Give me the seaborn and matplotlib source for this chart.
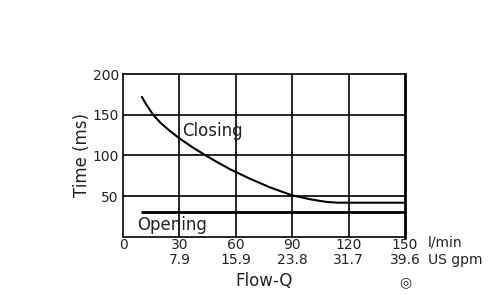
import matplotlib
matplotlib.use("Agg")
import matplotlib.pyplot as plt
import seaborn as sns
import pandas as pd

# data
closing_flow = [10, 12, 16, 20, 25, 30, 37, 44, 50, 57, 67, 78, 90, 100, 108, 114, 150]
closing_time = [172, 164, 150, 140, 130, 121, 110, 100, 92, 83, 72, 61, 51, 46, 43, 42, 42]
opening_flow = [10, 150]
opening_time = [31, 31]
x_ticks_lpm = [0, 30, 60, 90, 120, 150]
x_ticks_gpm = ["", "7.9", "15.9", "23.8", "31.7", "39.6"]
y_ticks = [50, 100, 150, 200]

sns.set_style("white")
plt.rcParams['font.family'] = ['DejaVu Sans']

fig = plt.figure(figsize=(5, 2.95), dpi=100)
ax = fig.add_axes([0.246, 0.197, 0.564, 0.552])

df_c = pd.DataFrame({"flow": closing_flow, "time": closing_time})
df_o = pd.DataFrame({"flow": opening_flow, "time": opening_time})
sns.lineplot(data=df_c, x="flow", y="time", ax=ax, color="black", linewidth=1.5)
sns.lineplot(data=df_o, x="flow", y="time", ax=ax, color="black", linewidth=2.0)

ax.set_xlim(0, 150)
ax.set_ylim(0, 200)
ax.set_yticks(y_ticks)
ax.set_yticklabels([str(v) for v in y_ticks], fontsize=10, color="#222222")
labels = []
for a, b in zip(x_ticks_lpm, x_ticks_gpm):
    labels.append(f"{a}\n{b}" if b else f"{a}\n")
ax.set_xticks(x_ticks_lpm)
ax.set_xticklabels(labels, fontsize=10, color="#222222", linespacing=1.05)
ax.tick_params(axis="x", length=0, pad=1)
ax.tick_params(axis="y", length=0, pad=3)

for v in [30, 60, 90, 120]:
    ax.axvline(v, color="black", linewidth=1.2, zorder=1)
for v in [50, 100, 150]:
    ax.axhline(v, color="black", linewidth=1.2, zorder=1)

for s in ["left", "bottom", "top"]:
    ax.spines[s].set_color("black")
    ax.spines[s].set_linewidth(1.2)
ax.spines["right"].set_color("black")
ax.spines["right"].set_linewidth(2.0)

ax.set_xlabel("Flow-Q", fontsize=12, labelpad=4, color="#222222")
ax.set_ylabel("Time (ms)", fontsize=12, labelpad=1, color="#222222")

ax.text(31.5, 130, "Closing", fontsize=12, ha="left", va="center", color="#222222")
ax.text(7.5, 15, "Opening", fontsize=12, ha="left", va="center", color="#222222")

fig.text(0.855, 1 - 243 / 295, "l/min", fontsize=10, ha="left", va="center", color="#222222")
fig.text(0.855, 1 - 260 / 295, "US gpm", fontsize=10, ha="left", va="center", color="#222222")
fig.text(0.81, 1 - 282 / 295, "\u25CE", fontsize=10, ha="center", va="center", color="#222222")

fig.savefig("out.png", dpi=100)
